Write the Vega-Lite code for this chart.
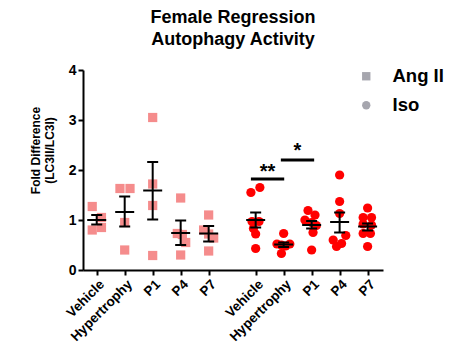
{
  "$schema": "https://vega.github.io/schema/vega-lite/v6.json",
  "width": 300,
  "height": 200,
  "autosize": "none",
  "padding": {"left": 83, "top": 70, "right": 79, "bottom": 85},
  "background": "white",
  "config": {
    "view": {"stroke": null},
    "font": "Liberation Sans"
  },
  "title": {
    "text": ["Female Regression", "Autophagy Activity"],
    "font": "Liberation Sans",
    "fontSize": 18,
    "fontWeight": "bold",
    "color": "black",
    "lineHeight": 22,
    "anchor": "middle",
    "offset": 14
  },
  "datasets": {
    "points": [
      {"cond": "Ang II", "x": 0.84, "value": 1.27},
      {"cond": "Ang II", "x": 0.84, "value": 0.80},
      {"cond": "Ang II", "x": 1.17, "value": 1.05},
      {"cond": "Ang II", "x": 1.17, "value": 0.85},
      {"cond": "Ang II", "x": 1.83, "value": 1.63},
      {"cond": "Ang II", "x": 2.19, "value": 1.63},
      {"cond": "Ang II", "x": 2.0, "value": 0.95},
      {"cond": "Ang II", "x": 2.0, "value": 0.40},
      {"cond": "Ang II", "x": 3.0, "value": 3.05},
      {"cond": "Ang II", "x": 3.0, "value": 1.72},
      {"cond": "Ang II", "x": 3.0, "value": 1.29},
      {"cond": "Ang II", "x": 3.0, "value": 0.29},
      {"cond": "Ang II", "x": 4.0, "value": 1.44},
      {"cond": "Ang II", "x": 3.88, "value": 0.73},
      {"cond": "Ang II", "x": 4.06, "value": 0.71},
      {"cond": "Ang II", "x": 4.18, "value": 0.55},
      {"cond": "Ang II", "x": 4.0, "value": 0.30},
      {"cond": "Ang II", "x": 5.0, "value": 1.10},
      {"cond": "Ang II", "x": 4.82, "value": 0.80},
      {"cond": "Ang II", "x": 5.0, "value": 0.72},
      {"cond": "Ang II", "x": 5.18, "value": 0.64},
      {"cond": "Ang II", "x": 5.0, "value": 0.38},
      {"cond": "Iso", "x": 6.51, "value": 1.55},
      {"cond": "Iso", "x": 6.83, "value": 1.65},
      {"cond": "Iso", "x": 6.55, "value": 0.97},
      {"cond": "Iso", "x": 6.8, "value": 0.97},
      {"cond": "Iso", "x": 6.6, "value": 0.83},
      {"cond": "Iso", "x": 6.68, "value": 0.72},
      {"cond": "Iso", "x": 6.68, "value": 0.43},
      {"cond": "Iso", "x": 7.68, "value": 0.73},
      {"cond": "Iso", "x": 7.44, "value": 0.52},
      {"cond": "Iso", "x": 7.9, "value": 0.52},
      {"cond": "Iso", "x": 7.6, "value": 0.50},
      {"cond": "Iso", "x": 7.75, "value": 0.48},
      {"cond": "Iso", "x": 7.6, "value": 0.33},
      {"cond": "Iso", "x": 8.55, "value": 1.19},
      {"cond": "Iso", "x": 8.8, "value": 1.10},
      {"cond": "Iso", "x": 8.44, "value": 1.00},
      {"cond": "Iso", "x": 8.68, "value": 0.95},
      {"cond": "Iso", "x": 8.85, "value": 0.89},
      {"cond": "Iso", "x": 8.73, "value": 0.75},
      {"cond": "Iso", "x": 8.68, "value": 0.40},
      {"cond": "Iso", "x": 9.68, "value": 1.90},
      {"cond": "Iso", "x": 9.68, "value": 1.37},
      {"cond": "Iso", "x": 9.68, "value": 1.13},
      {"cond": "Iso", "x": 9.9, "value": 0.69},
      {"cond": "Iso", "x": 9.45, "value": 0.60},
      {"cond": "Iso", "x": 9.57, "value": 0.47},
      {"cond": "Iso", "x": 9.75, "value": 0.53},
      {"cond": "Iso", "x": 10.68, "value": 1.24},
      {"cond": "Iso", "x": 10.52, "value": 1.05},
      {"cond": "Iso", "x": 10.82, "value": 1.05},
      {"cond": "Iso", "x": 10.52, "value": 0.92},
      {"cond": "Iso", "x": 10.82, "value": 0.90},
      {"cond": "Iso", "x": 10.52, "value": 0.73},
      {"cond": "Iso", "x": 10.78, "value": 0.73},
      {"cond": "Iso", "x": 10.68, "value": 0.47}
    ],
    "summary": [
      {"x": 1, "mean": 1.0, "lo": 0.91, "hi": 1.10},
      {"x": 2, "mean": 1.16, "lo": 0.87, "hi": 1.47},
      {"x": 3, "mean": 1.59, "lo": 1.01, "hi": 2.16},
      {"x": 4, "mean": 0.74, "lo": 0.50, "hi": 0.99},
      {"x": 5, "mean": 0.73, "lo": 0.57, "hi": 0.88},
      {"x": 6.68, "mean": 1.0, "lo": 0.85, "hi": 1.15},
      {"x": 7.68, "mean": 0.51, "lo": 0.46, "hi": 0.55},
      {"x": 8.68, "mean": 0.90, "lo": 0.83, "hi": 0.98},
      {"x": 9.68, "mean": 0.96, "lo": 0.75, "hi": 1.15},
      {"x": 10.68, "mean": 0.87, "lo": 0.79, "hi": 0.93}
    ],
    "sig": [
      {"x1": 6.51, "x2": 7.70, "y": 1.82, "ty": 1.96, "tx": 7.1, "label": "**"},
      {"x1": 7.58, "x2": 8.77, "y": 2.2, "ty": 2.39, "tx": 8.17, "label": "*"}
    ]
  },
  "encoding": {
    "x": {
      "type": "quantitative",
      "scale": {"domain": [0.51, 11.23], "nice": false, "zero": false},
      "axis": {
        "title": null,
        "values": [1, 2, 3, 4, 5, 6.68, 7.68, 8.68, 9.68, 10.68],
        "labelExpr": "datum.value < 1.5 ? 'Vehicle' : datum.value < 2.5 ? 'Hypertrophy' : datum.value < 3.5 ? 'P1' : datum.value < 4.5 ? 'P4' : datum.value < 5.5 ? 'P7' : datum.value < 7 ? 'Vehicle' : datum.value < 8 ? 'Hypertrophy' : datum.value < 9 ? 'P1' : datum.value < 10 ? 'P4' : 'P7'",
        "labelAngle": -45,
        "labelFont": "Liberation Sans",
        "labelFontSize": 13.5,
        "labelFontWeight": "bold",
        "labelColor": "black",
        "labelPadding": 2,
        "grid": false,
        "domainColor": "black",
        "domainWidth": 2,
        "tickColor": "black",
        "tickWidth": 2,
        "tickSize": 5,
        "labelOverlap": false,
        "labelBound": false,
        "labelFlush": false
      }
    },
    "y": {
      "type": "quantitative",
      "scale": {"domain": [0, 4], "nice": false},
      "axis": {
        "title": ["Fold Difference", "(LC3II/LC3I)"],
        "titleFont": "Liberation Sans",
        "titleFontSize": 12,
        "titleFontWeight": "bold",
        "titleColor": "black",
        "titleLineHeight": 14,
        "titleY": 80,
        "titleX": -41,
        "titleAngle": -90,
        "titleBaseline": "bottom",
        "titleAlign": "center",
        "values": [0, 1, 2, 3, 4],
        "labelFont": "Liberation Sans",
        "labelFontSize": 14,
        "labelFontWeight": "bold",
        "labelColor": "black",
        "labelPadding": 2,
        "grid": false,
        "domainColor": "black",
        "domainWidth": 2,
        "tickColor": "black",
        "tickWidth": 2,
        "tickSize": 5
      }
    }
  },
  "layer": [
    {
      "data": {"name": "points"},
      "mark": {"type": "point", "filled": true, "opacity": 0, "size": 85, "color": "#a6a6ae"},
      "encoding": {
        "x": {"field": "x"},
        "y": {"field": "value"},
        "shape": {
          "field": "cond",
          "type": "nominal",
          "scale": {"domain": ["Ang II", "Iso"], "range": ["square", "circle"]},
          "legend": {
            "title": null,
            "orient": "none",
            "legendX": 274,
            "legendY": -3,
            "labelFont": "Liberation Sans",
            "labelFontSize": 18.5,
            "labelFontWeight": "bold",
            "labelColor": "black",
            "labelOffset": 17,
            "rowPadding": 10,
            "symbolSize": 70,
            "symbolStrokeWidth": 0,
            "symbolOpacity": 1,
            "symbolFillColor": "#a6a6ae"
          }
        }
      }
    },
    {
      "data": {"name": "points"},
      "mark": {"type": "point", "filled": true, "opacity": 1, "size": 85},
      "encoding": {
        "x": {"field": "x"},
        "y": {"field": "value"},
        "color": {
          "condition": {"test": "datum.cond === 'Iso'", "value": "#ff0000"},
          "value": "#f58c8c"
        },
        "shape": {
          "condition": {"test": "datum.cond === 'Iso'", "value": "circle"},
          "value": "square"
        }
      }
    },
    {
      "data": {"name": "summary"},
      "mark": {"type": "rule", "color": "black", "strokeWidth": 2},
      "encoding": {"x": {"field": "x"}, "y": {"field": "lo"}, "y2": {"field": "hi"}}
    },
    {
      "data": {"name": "summary"},
      "mark": {"type": "tick", "orient": "horizontal", "color": "black", "thickness": 2, "size": 11, "opacity": 1},
      "encoding": {"x": {"field": "x"}, "y": {"field": "lo"}}
    },
    {
      "data": {"name": "summary"},
      "mark": {"type": "tick", "orient": "horizontal", "color": "black", "thickness": 2, "size": 11, "opacity": 1},
      "encoding": {"x": {"field": "x"}, "y": {"field": "hi"}}
    },
    {
      "data": {"name": "summary"},
      "mark": {"type": "tick", "orient": "horizontal", "color": "black", "thickness": 2, "size": 19, "opacity": 1},
      "encoding": {"x": {"field": "x"}, "y": {"field": "mean"}}
    },
    {
      "data": {"name": "sig"},
      "mark": {"type": "rule", "color": "black", "strokeWidth": 3},
      "encoding": {"x": {"field": "x1"}, "x2": {"field": "x2"}, "y": {"field": "y"}}
    },
    {
      "data": {"name": "sig"},
      "mark": {"type": "text", "fontSize": 20, "fontWeight": "bold", "font": "Liberation Sans", "color": "black", "baseline": "middle", "align": "center"},
      "encoding": {"x": {"field": "tx"}, "y": {"field": "ty"}, "text": {"field": "label"}}
    }
  ]
}
